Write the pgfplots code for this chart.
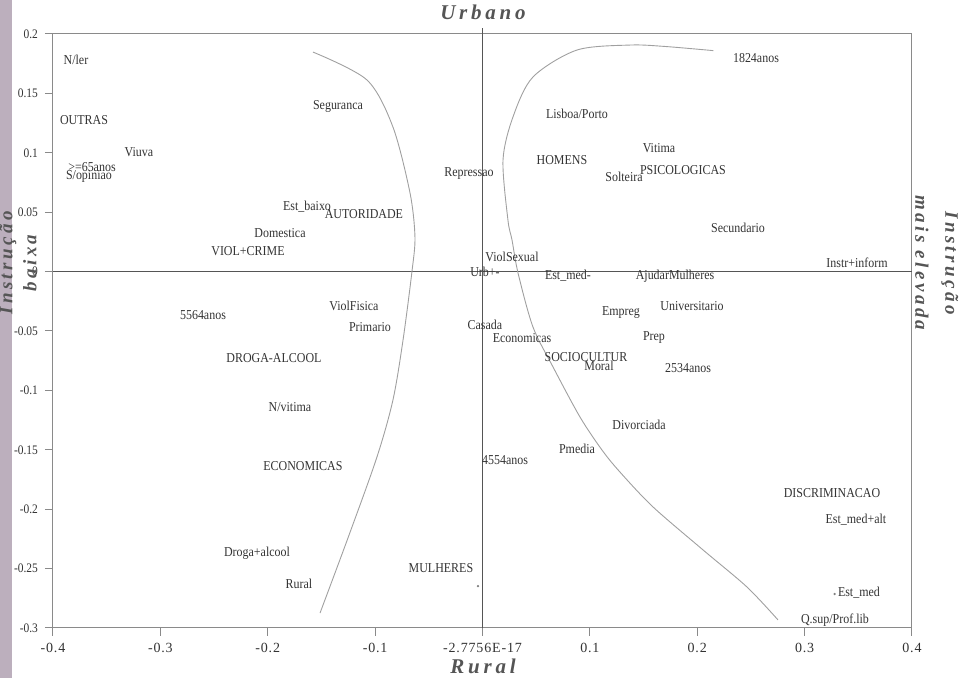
\documentclass[border=0pt]{standalone}
\usepackage{fontspec}
\setmainfont{Liberation Serif}[FakeStretch=0.88]
\newfontfamily\titlefont{Liberation Serif}[LetterSpace=18]
\newfontfamily\tickfont{Liberation Serif}[LetterSpace=6]
\usepackage{pgfplots}
\pgfplotsset{compat=1.18}
\usepackage{pgfplotstable}

\definecolor{labtxt}{HTML}{333333}
\definecolor{framec}{HTML}{8A8A8A}
\definecolor{zeroc}{HTML}{555555}
\definecolor{curvec}{HTML}{A0A0A0}
\definecolor{strip}{HTML}{BCAFBD}

% label positions (centre of each label)
\pgfplotstableread{
x y lab
-0.3786 0.1781 N/ler
-0.3711 0.1276 OUTRAS
-0.3199 0.1007 Viuva
-0.3637 0.0880 >=65anos
-0.3665 0.0805 S/opiniao
-0.1346 0.1394 Seguranca
-0.1634 0.0544 Est\_baixo
-0.1104 0.0485 AUTORIDADE
-0.1886 0.0325 Domestica
-0.2184 0.0173 VIOL+CRIME
-0.0126 0.0822 Repressao
0.0880 0.1327 Lisboa/Porto
0.0740 0.0939 HOMENS
0.1318 0.0796 Solteira
0.1644 0.1040 Vitima
0.1867 0.0855 PSICOLOGICAS
0.2547 0.1798 1824anos
0.2380 0.0367 Secundario
0.3488 0.0072 Instr+inform
0.0275 0.0123 ViolSexual
0.0023 0.0000 Urb+-
0.0796 -0.0037 Est\_med-
0.1793 -0.0037 AjudarMulheres
0.1951 -0.0290 Universitario
0.1290 -0.0341 Empreg
0.1597 -0.0551 Prep
0.1914 -0.0812 2534anos
0.1458 -0.1291 Divorciada
-0.1197 -0.0290 ViolFisica
-0.1048 -0.0467 Primario
0.0023 -0.0450 Casada
0.0368 -0.0559 Economicas
0.0964 -0.0719 SOCIOCULTUR
0.1085 -0.0795 Moral
-0.2603 -0.0367 5564anos
-0.1942 -0.0729 DROGA-ALCOOL
-0.1793 -0.1141 N/vitima
-0.1672 -0.1638 ECONOMICAS
0.0880 -0.1495 Pmedia
0.0210 -0.1587 4554anos
-0.2100 -0.2373 Droga+alcool
-0.1709 -0.2626 Rural
-0.0387 -0.2492 MULHERES
0.3255 -0.1863 DISCRIMINACAO
0.3478 -0.2091 Est\_med+alt
0.3506 -0.2705 Est\_med
0.3283 -0.2932 Q.sup/Prof.lib
}\labels

\begin{document}
\begin{tikzpicture}
\fill[strip] (-26.5pt,-25pt) rectangle (-20.5pt,314pt);
\begin{axis}[
  width=429.5pt, height=297pt, scale only axis,
  xmin=-0.4, xmax=0.4, ymin=-0.3, ymax=0.2,
  xtick={-0.4,-0.3,-0.2,-0.1,0,0.1,0.2,0.3,0.4},
  xticklabels={-0.4,-0.3,-0.2,-0.1,-2.7756E-17,0.1,0.2,0.3,0.4},
  ytick={-0.3,-0.25,-0.2,-0.15,-0.1,-0.05,0,0.05,0.1,0.15,0.2},
  yticklabels={-0.3,-0.25,-0.2,-0.15,-0.1,-0.05,0,0.05,0.1,0.15,0.2},
  tick align=outside, xtick pos=bottom, ytick pos=left,
  major tick length=4pt,
  axis line style={framec, line width=0.5pt},
  tick style={framec, line width=0.5pt},
  tick label style={font=\fontsize{6.5}{7}\selectfont, text=labtxt},
  x tick label style={font=\tickfont\fontsize{7}{8}\selectfont},
  clip=false,
]
% zero lines
\addplot[zeroc, line width=0.5pt] coordinates {(-0.4,0) (0.4,0)};
\addplot[zeroc, line width=0.5pt] coordinates {(0,-0.3) (0,0.205)};

% left boundary curve
\addplot[curvec, line width=0.45pt, smooth] coordinates {
(-0.1579,0.1848) (-0.1076,0.1613) (-0.0834,0.1217) (-0.0675,0.0662)
(-0.0629,0.0291) (-0.0657,0.0) (-0.0740,-0.0576) (-0.0834,-0.1081)
(-0.0983,-0.1561) (-0.1243,-0.2218) (-0.1513,-0.2874)};

% right boundary curve
\addplot[curvec, line width=0.45pt, smooth] coordinates {
(0.2150,0.1860) (0.1700,0.1895) (0.1374,0.1907) (0.0880,0.1865) (0.0470,0.1638)
(0.0284,0.1302) (0.0191,0.0939) (0.0237,0.0434) (0.0275,0.0266)
(0.0331,-0.0012) (0.0470,-0.0466) (0.0657,-0.0803) (0.0908,-0.1224)
(0.1113,-0.1502) (0.1280,-0.1687) (0.1588,-0.1981) (0.2054,-0.2343)
(0.2463,-0.2655) (0.2752,-0.2932)};

% small stray points
\addplot[only marks, mark=*, mark size=0.35pt, draw=gray, fill=gray] coordinates {(-0.0042,-0.2647) (0.3279,-0.2714)};

% category labels
\addplot[draw=none, mark=none, nodes near coords, point meta=explicit symbolic,
  every node near coord/.style={anchor=center, inner sep=0pt, text=labtxt,
    font=\fontsize{6.8}{7}\selectfont}]
  table[x=x, y=y, meta=lab] {\labels};

% axis titles
\node[font=\titlefont\bfseries\itshape\fontsize{10.5}{12}\selectfont, text=zeroc]
  at (axis description cs:0.5006,1.037) {Urbano};
\node[font=\titlefont\bfseries\itshape\fontsize{10.5}{12}\selectfont, text=zeroc]
  at (axis description cs:0.5006,-0.064) {Rural};
\node[font=\titlefont\bfseries\itshape\fontsize{9.5}{11}\selectfont, text=zeroc, rotate=-90]
  at (axis description cs:1.0442,0.6145) {Instrução};
\node[font=\titlefont\bfseries\itshape\fontsize{9.5}{11}\selectfont, text=zeroc, rotate=-90]
  at (axis description cs:1.0116,0.6145) {mais elevada};
\node[font=\titlefont\bfseries\itshape\fontsize{9.5}{11}\selectfont, text=zeroc, rotate=90]
  at (axis description cs:-0.0268,0.6145) {baixa};
\node[font=\titlefont\bfseries\itshape\fontsize{9.5}{11}\selectfont, text=zeroc, rotate=90]
  at (axis description cs:-0.0524,0.6145) {Instrução};
\end{axis}
\pgfresetboundingbox
\useasboundingbox (-26.5pt,-25pt) rectangle (456pt,314pt);
\end{tikzpicture}
\end{document}
